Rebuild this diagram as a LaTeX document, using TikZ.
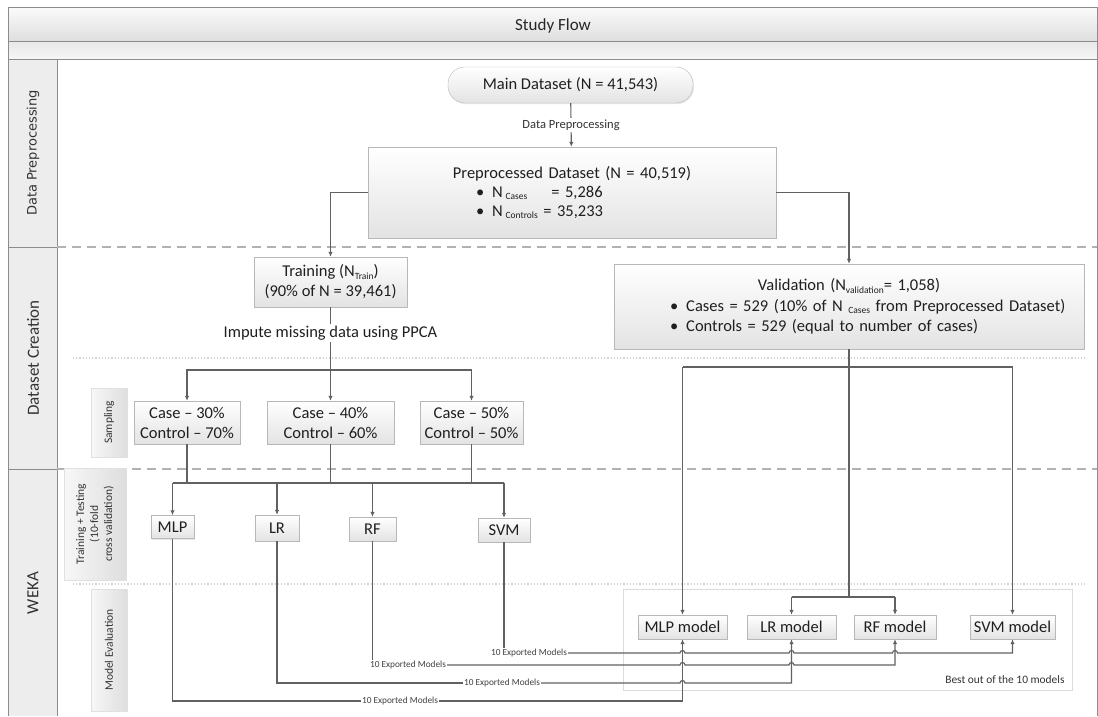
\documentclass[tikz,border=0pt]{standalone}
\usepackage{fontspec}
\setmainfont{Carlito}
\newfontfamily\lanefont{DejaVu Sans}
\usetikzlibrary{arrows.meta, shadows, calc}

\newcommand{\subtx}[1]{\raisebox{-2.5pt}{\fontsize{9.5}{10}\selectfont #1}}

\tikzset{
  linecol/.style={draw=black!62, line width=1.1pt},
  arr/.style={linecol, -{Latex[length=5pt, width=4.5pt]}},
  procbox/.style={draw=black!28, top color=white, bottom color=black!11,
    drop shadow={opacity=0.18, shadow xshift=1pt, shadow yshift=-1.2pt},
    font=\fontsize{16.5}{20}\selectfont, text=black!88, align=center, inner sep=2pt},
  sublane/.style={draw=black!12, left color=black!3, right color=black!13, rotate=90,
    font=\fontsize{11.5}{14}\selectfont, text=black!80, align=center, inner sep=1pt},
  exlabel/.style={fill=white, inner sep=1pt, font=\fontsize{9.3}{10}\selectfont, text=black!75},
  lanesep/.style={draw=black!30, line width=1.2pt, dash pattern=on 9pt off 6pt},
  sublanesep/.style={draw=black!18, line width=1.2pt, dotted},
}

\begin{document}
\begin{tikzpicture}[x=1pt, y=-1pt]
  \useasboundingbox (0,0) rectangle (1098,717);

  % Draw header bands and lanes
  \shade[top color=black!2, bottom color=black!13] (8,8) rectangle (1097,42);
  \shade[top color=black!9, bottom color=black!3] (8,42) rectangle (1097,60);
  \fill[black!7] (8,60) rectangle (57,716);
  \draw[black!45, line width=1pt] (8,716) -- (8,8) -- (1097,8) -- (1097,716);
  \draw[black!45, line width=1pt] (8,42) -- (1097,42) (8,60) -- (1097,60) (57,60) -- (57,716)
    (8,247) -- (57,247) (8,469) -- (57,469);
  \draw[lanesep] (57,247) -- (1097,247) (57,469) -- (1097,469);
  \draw[sublanesep] (73,358) -- (1085,358) (73,584) -- (1085,584);

  \node[font=\fontsize{17}{20}\selectfont, text=black!85] (title) at (553,26) {Study Flow};
  \node[rotate=90, font={\lanefont\fontsize{13}{15}\selectfont}, text=black!80] (lanepre) at (33,153) {Data Preprocessing};
  \node[rotate=90, font=\fontsize{17}{20}\selectfont, text=black!80] (lanedc) at (33,358) {Dataset Creation};
  \node[rotate=90, font=\fontsize{17}{20}\selectfont, text=black!80] (laneweka) at (33,593) {WEKA};

  % Sub-lanes
  \node[sublane, minimum width=69, minimum height=36] (subsamp) at (109,422.5) {Sampling};
  \node[sublane, minimum width=112, minimum height=62] (subtrain) at (95,524) {Training + Testing\\(10-fold\\cross validation)};
  \node[sublane, minimum width=122, minimum height=36] (subeval) at (109,650) {Model Evaluation};

  % Datasets
  \node[procbox, rounded corners=17, minimum width=245, minimum height=36] (main) at (570.5,85) {Main Dataset (N = 41,543)};
  \node[procbox, minimum width=408, minimum height=91, text width=398, align=left,
    font=\fontsize{16.5}{19}\selectfont] (prep) at (572,192.5)
    {\makebox[398pt]{Preprocessed Dataset (N = 40,519)}\\
     \hspace*{103pt}\textbullet\hspace{8pt}N\,\subtx{Cases}\hspace{24pt}= 5,286\\
     \hspace*{103pt}\textbullet\hspace{8pt}N\,\subtx{Controls} = 35,233};
  \node[procbox, minimum width=153, minimum height=50] (train) at (330.5,282) {Training (N\subtx{Train})\\(90\% of N = 39,461)};
  \node[procbox, minimum width=470, minimum height=85, text width=460, align=left,
    font=\fontsize{16.5}{20.5}\selectfont] (valid) at (849,306.5)
    {\makebox[460pt]{Validation (N\subtx{validation}= 1,058)}\\
     \hspace*{51pt}\textbullet\hspace{8pt}Cases = 529 (10\% of N \subtx{Cases} from Preprocessed Dataset)\\
     \hspace*{51pt}\textbullet\hspace{8pt}Controls = 529 (equal to number of cases)};
  \node[font=\fontsize{16.5}{20}\selectfont, text=black!88, inner sep=2pt] (impute) at (330.5,333) {Impute missing data using PPCA};

  % Sampling boxes
  \foreach \n/\x/\w/\c/\k in {case30/187/106/30/70, case40/330.5/127/40/60, case50/471.5/103/50/50}
    \node[procbox, minimum width=\w, minimum height=43] (\n) at (\x,422.5) {Case – \c\%\\Control – \k\%};

  % Classifiers
  \foreach \n/\x/\y/\w/\h/\t in {mlp/172.5/527/43/23/MLP, lr/277/528/44/26/LR, rf/372.5/529/47/24/RF, svm/504/530/52/24/SVM}
    \node[procbox, minimum width=\w, minimum height=\h] (\n) at (\x,\y) {\t};

  % Model evaluation
  \node[draw=black!14, minimum width=449, minimum height=101,
    drop shadow={opacity=0.1, shadow xshift=1pt, shadow yshift=-1.2pt}, fill=white] (best) at (847.5,639.5) {};
  \node[anchor=east, font=\fontsize{11.4}{13}\selectfont, text=black!80] (bestlbl) at (1068,680) {Best out of the 10 models};
  \foreach \n/\x/\w/\t in {mlpm/682.5/89/MLP, lrm/791.5/89/LR, rfm/895/82/RF, svmm/1012.5/85/SVM}
    \node[procbox, minimum width=\w, minimum height=24] (\n) at (\x,627) {\t{} model};

  % Connectors
  \draw[arr] (main) -- node[fill=white, inner sep=1.5pt, font=\fontsize{12.5}{14}\selectfont, text=black!80] (preplbl) {Data Preprocessing} (prep);
  \draw[arr] (prep.west) -| (train.north);
  \draw[arr] (prep.east) -| (valid.north);

  \coordinate (sbus) at (330.5,370);
  \draw[linecol] (train) -- (impute);
  \draw[linecol] (impute) -- (sbus);
  \foreach \n in {case30,case40,case50}
    \draw[arr] (sbus) -| (\n.north);

  \coordinate (abus) at (330.5,483);
  \foreach \n in {case30,case40,case50}
    \draw[linecol] (\n.south) -- (\n.south |- abus);
  \draw[linecol] (mlp.north |- abus) -- (svm.north |- abus);
  \foreach \n in {mlp,lr,rf,svm}
    \draw[arr] (\n.north |- abus) -- (\n.north);

  \coordinate (vbus) at (849,367);
  \coordinate (vbus2) at (849,597);
  \draw[linecol] (valid.south) -- (vbus2);
  \draw[linecol] (mlpm.north |- vbus) -- (svmm.north |- vbus);
  \draw[linecol] (lrm.north |- vbus2) -- (rfm.north |- vbus2);
  \foreach \n/\b in {mlpm/vbus, svmm/vbus, lrm/vbus2, rfm/vbus2}
    \draw[arr] (\n.north |- \b) -- (\n.north);

  % Exported models
  \foreach \n/\x/\y in {exS/529/653, exR/408/665, exL/502/683, exM/400/701}
    \node[exlabel] (\n) at (\x,\y) {10 Exported Models};

  \draw[linecol] (svm.south) -- (svm.south |- exS.north);
  \draw[arr] (exS.east) foreach \m in {mlpm,lrm,rfm} { -- ($(\m.south |- exS)+(-2.5,0)$) arc[start angle=180, end angle=0, radius=2.5pt] }
    -- (svmm.south |- exS) -- (svmm.south);
  \draw[linecol] (rf.south) -- (rf.south |- exR.north);
  \draw[arr] (exR.east) foreach \m in {mlpm,lrm} { -- ($(\m.south |- exR)+(-2.5,0)$) arc[start angle=180, end angle=0, radius=2.5pt] }
    -- (rfm.south |- exR) -- (rfm.south);
  \draw[linecol] (lr.south) |- (exL.west);
  \draw[arr] (exL.east) -- ($(mlpm.south |- exL)+(-2.5,0)$) arc[start angle=180, end angle=0, radius=2.5pt]
    -- (lrm.south |- exL) -- (lrm.south);
  \draw[linecol] (mlp.south) |- (exM.west);
  \draw[arr] (exM.east) -- (mlpm.south |- exM) -- (mlpm.south);
\end{tikzpicture}
\end{document}
